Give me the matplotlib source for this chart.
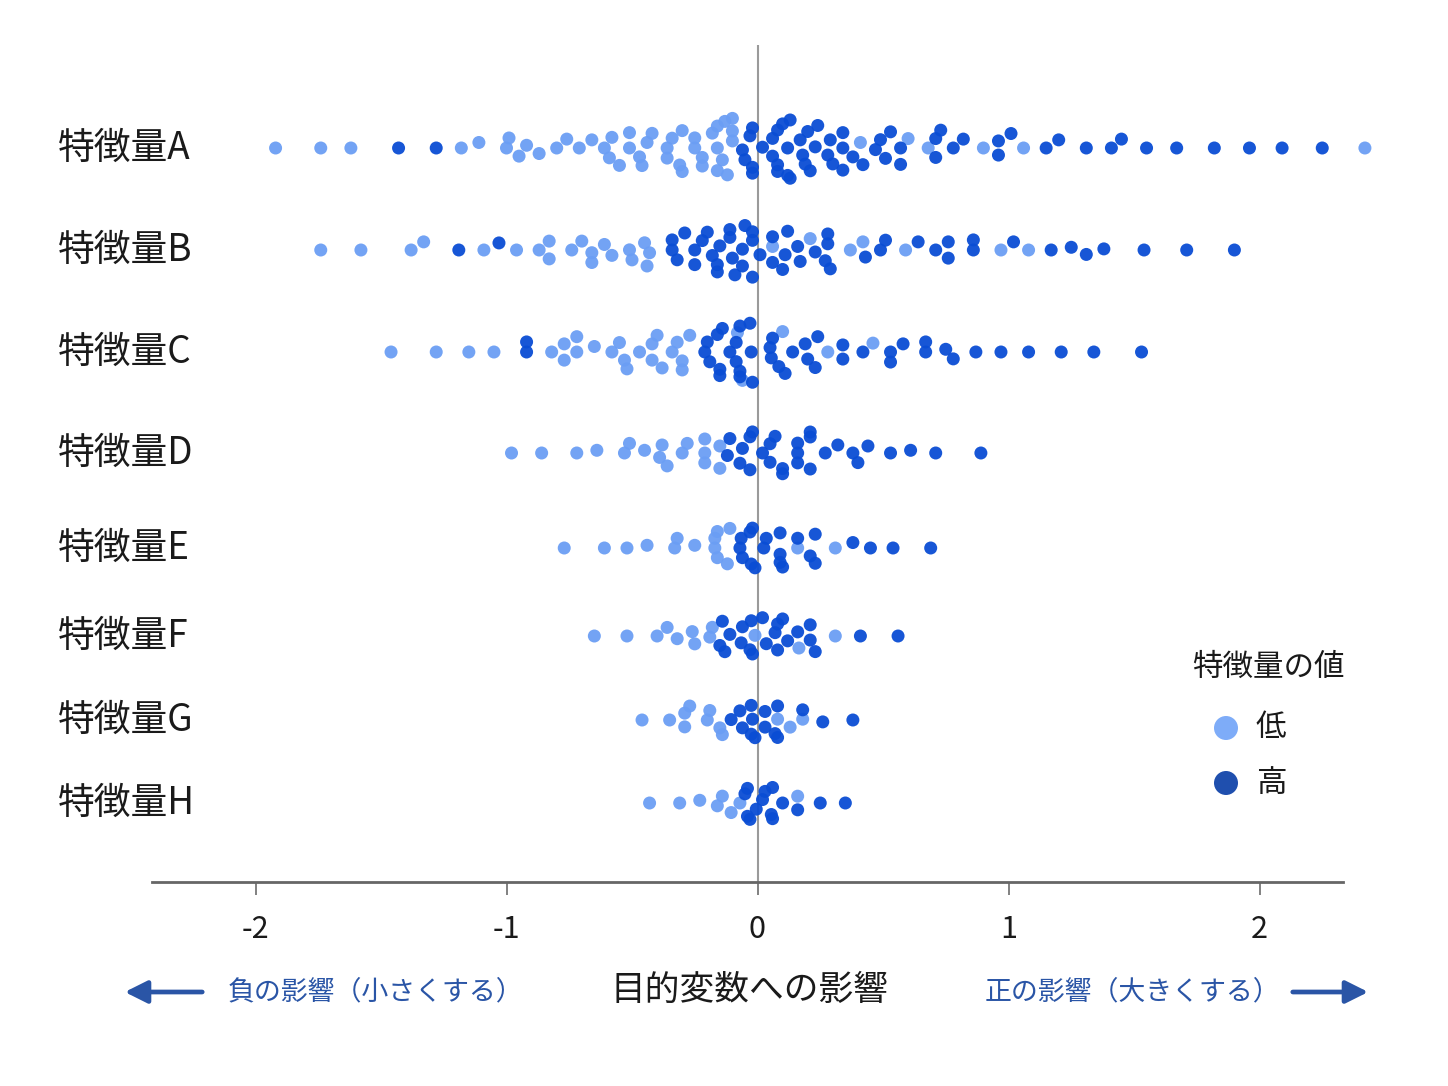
import numpy as np
import matplotlib
matplotlib.use("Agg")
import matplotlib.pyplot as plt
import matplotlib.transforms as mtransforms
from matplotlib.patches import FancyArrowPatch

plt.rcParams['font.family'] = ['Noto Sans CJK JP', 'DejaVu Sans']

# ---------------- data ----------------
features = ["特徴量A", "特徴量B", "特徴量C", "特徴量D", "特徴量E", "特徴量F", "特徴量G", "特徴量H"]

feat_A_low = [-1.92, -1.74, -1.62, -1.18, -1.11, -0.99, -0.95, -1.00, -0.92, -0.87, -0.80, -0.76,
              -0.71, -0.66, -0.61, -0.59, -0.55, -0.58, -0.51, -0.51, -0.46, -0.47, -0.44, -0.42,
              -0.36, -0.36, -0.34, -0.31, -0.30, -0.30, -0.25, -0.25, -0.22, -0.22, -0.18, -0.16,
              -0.16, -0.16, -0.14, -0.13, -0.12, -0.10, -0.10, -0.10,
              0.41, 0.60, 0.68, 0.90, 1.06, 2.42]
feat_A_high = [-1.43, -1.28, -0.02, -0.05, -0.02, -0.06, -0.02, -0.03,
               0.02, 0.06, 0.10, 0.08, 0.12, 0.08, 0.12, 0.06, 0.13, 0.08, 0.13, 0.18, 0.17, 0.21,
               0.19, 0.20, 0.24, 0.23, 0.28, 0.29, 0.30, 0.34, 0.34, 0.34, 0.38, 0.42, 0.47,
               0.49, 0.51, 0.53, 0.57, 0.57, 0.71, 0.71, 0.73, 0.78, 0.82, 0.96, 0.96, 1.01, 1.15,
               1.20, 1.31, 1.41, 1.45, 1.55, 1.67, 1.82, 1.96, 2.09, 2.25]

feat_B_low = [-1.74, -1.58, -1.38, -1.33, -1.09, -0.96, -0.87, -0.83, -0.83, -0.74, -0.70, -0.66,
              -0.66, -0.61, -0.58, -0.51, -0.50, -0.45, -0.44, -0.43, 0.06, 0.21, 0.37, 0.42,
              0.59, 0.97, 1.08]
feat_B_high = [-1.19, -1.03, -0.34, -0.34, -0.32, -0.29, -0.25, -0.25, -0.22, -0.20, -0.18, -0.16,
               -0.15, -0.16, -0.11, -0.10, -0.09, -0.11, -0.05, -0.02, -0.02, -0.02, -0.06, -0.06,
               0.01, 0.06, 0.06, 0.10, 0.11, 0.12, 0.16, 0.17, 0.23, 0.27, 0.28, 0.29, 0.28, 0.43,
               0.49, 0.51, 0.64, 0.71, 0.76, 0.76, 0.86, 0.86, 1.02, 1.17, 1.25, 1.31, 1.38, 1.54,
               1.71, 1.90]

feat_C_low = [-1.46, -1.28, -1.15, -1.05, -0.82, -0.77, -0.77, -0.72, -0.72, -0.65, -0.55, -0.58,
              -0.52, -0.53, -0.47, -0.42, -0.40, -0.42, -0.38, -0.34, -0.32, -0.30, -0.27, -0.30,
              -0.08, -0.06, 0.10, 0.28, 0.46]
feat_C_high = [-0.92, -0.92, -0.16, -0.19, -0.14, -0.20, -0.21, -0.15, -0.15, -0.11, -0.07, -0.07,
               -0.085, -0.085, -0.02, -0.025, -0.03, -0.07, 0.085, 0.06, 0.11, 0.055, 0.05, 0.14,
               0.20, 0.24, 0.19, 0.23, 0.34, 0.34, 0.42, 0.53, 0.53, 0.58, 0.67, 0.67, 0.75, 0.78,
               0.87, 0.97, 1.08, 1.21, 1.34, 1.53]

feat_D_low = [-0.98, -0.86, -0.72, -0.64, -0.53, -0.51, -0.45, -0.39, -0.38, -0.36, -0.30, -0.28,
              -0.21, -0.21, -0.21, -0.15, -0.15]
feat_D_high = [-0.12, -0.11, -0.07, -0.06, -0.03, -0.02, -0.03, 0.02, 0.05, 0.05, 0.07, 0.10, 0.10,
               0.16, 0.16, 0.16, 0.21, 0.21, 0.21, 0.27, 0.32, 0.38, 0.40, 0.44, 0.53, 0.61, 0.71,
               0.89]

feat_E_low = [-0.77, -0.61, -0.52, -0.44, -0.33, -0.32, -0.25, -0.16, -0.17, -0.12, -0.17, -0.11,
              -0.16, 0.16, 0.31]
feat_E_high = [-0.03, -0.06, -0.01, -0.065, -0.02, -0.07, -0.025, 0.025, 0.035, 0.09, 0.10, 0.09,
               0.09, 0.16, 0.21, 0.23, 0.23, 0.38, 0.45, 0.54, 0.69]

feat_F_low = [-0.65, -0.52, -0.40, -0.36, -0.32, -0.26, -0.25, -0.19, -0.18, -0.01, 0.165, 0.31]
feat_F_high = [-0.14, -0.11, -0.15, -0.13, -0.065, -0.06, -0.03, -0.02, -0.025, 0.02, 0.035, 0.07,
               0.08, 0.08, 0.10, 0.12, 0.16, 0.21, 0.21, 0.23, 0.41, 0.56]

feat_G_low = [-0.46, -0.35, -0.29, -0.29, -0.27, -0.20, -0.19, -0.15, -0.14, 0.08, 0.13, 0.18]
feat_G_high = [-0.105, -0.06, -0.07, -0.025, -0.02, -0.025, -0.01, 0.03, 0.03, 0.07, 0.08, 0.08,
               0.18, 0.26, 0.38]

feat_H_low = [-0.43, -0.31, -0.23, -0.16, -0.14, -0.105, -0.07, 0.16]
feat_H_high = [-0.05, -0.04, -0.04, -0.03, -0.005, 0.02, 0.03, 0.055, 0.06, 0.06, 0.10, 0.16,
               0.25, 0.35]

low_values = [feat_A_low, feat_B_low, feat_C_low, feat_D_low, feat_E_low, feat_F_low, feat_G_low, feat_H_low]
high_values = [feat_A_high, feat_B_high, feat_C_high, feat_D_high, feat_E_high, feat_F_high, feat_G_high, feat_H_high]

xtick_values = [-2, -1, 0, 1, 2]
xtick_labels = ["-2", "-1", "0", "1", "2"]

# ---------------- layout / style ----------------
W, H = 1448, 1086
DPI = 100
row_centers = [734, 632, 530, 429, 334, 246, 162, 79]   # axis units (== pixels above axis line)
row_half = [34, 34, 33, 26, 23, 21, 20, 18]
LOW_C = "#6b9ef4"
HIGH_C = "#0a4dd4"
LEG_LOW = "#7eacf8"
LEG_HIGH = "#1f4fae"
X_SCALE = 251.0   # pixels per unit
DOT = 13.0        # px diameter
BLUE_TXT = "#2a55a6"

fig = plt.figure(figsize=(W / DPI, H / DPI), dpi=DPI)
ax = fig.add_axes([152 / W, 1 - 882 / H, (1343 - 152) / W, (882 - 45) / H])
ax.set_xlim((152 - 757.5) / X_SCALE, (1343 - 757.5) / X_SCALE)
ax.set_ylim(0, 837)


def swarm(xpx, rx, ry):
    """Greedy beeswarm with an elliptical exclusion zone (rx wide, ry tall)."""
    order = np.argsort(xpx, kind="stable")
    placed = []
    ys = np.zeros(len(xpx))
    for i in order:
        x = xpx[i]
        near = [(px, py) for px, py in placed if abs(px - x) < rx]
        cands = [0.0]
        for px, py in near:
            dy = ry * np.sqrt(max(1 - ((px - x) / rx) ** 2, 0))
            cands += [py + dy, py - dy]
        cands.sort(key=lambda c: (abs(c), c))
        for c in cands:
            if all(((px - x) / rx) ** 2 + ((py - c) / ry) ** 2 >= 1 - 1e-6 for px, py in near):
                ys[i] = c
                break
        placed.append((x, ys[i]))
    return ys


label_tf = mtransforms.blended_transform_factory(fig.transFigure, ax.transData)

for k, name in enumerate(features):
    lo = np.array(low_values[k], dtype=float)
    hi = np.array(high_values[k], dtype=float)
    xs = np.concatenate([lo, hi])
    cols = np.array([LOW_C] * len(lo) + [HIGH_C] * len(hi))
    offs = swarm(xs * X_SCALE, DOT * 1.6, DOT * 0.8)
    offs = row_half[k] * np.tanh(offs / row_half[k])
    ys = row_centers[k] - offs
    ax.scatter(xs, ys, s=(DOT * 72 / DPI) ** 2, c=cols, edgecolors="none",
               alpha=0.95, zorder=3, clip_on=False)
    fig.text(58 / W, row_centers[k], name, fontsize=26.5, color="#1a1a1a", ha="left",
             va="center", transform=label_tf)

ax.axvline(0, color="#9a9a9a", lw=1.5, zorder=1)

for s in ["top", "right", "left"]:
    ax.spines[s].set_visible(False)
ax.spines["bottom"].set_color("#666666")
ax.spines["bottom"].set_linewidth(2.0)
ax.set_yticks([])
ax.set_xticks(xtick_values)
ax.set_xticklabels(xtick_labels)
ax.tick_params(axis="x", length=9, width=1.3, color="#777777", labelsize=22,
               labelcolor="#1a1a1a", pad=14)

# axis title and direction annotations
fig.text(750 / W, 1 - 990 / H, "目的変数への影響", fontsize=25, color="#1a1a1a",
         ha="center", va="center")
fig.text(228 / W, 1 - 992 / H, "負の影響（小さくする）", fontsize=19.4, color=BLUE_TXT,
         ha="left", va="center")
fig.text(985 / W, 1 - 992 / H, "正の影響（大きくする）", fontsize=19.4, color=BLUE_TXT,
         ha="left", va="center")
for x0, x1 in [(205, 122), (1290, 1371)]:
    arr = FancyArrowPatch((x0 / W, 1 - 992 / H), (x1 / W, 1 - 992 / H),
                          transform=fig.transFigure, arrowstyle="-|>", mutation_scale=34,
                          lw=3.4, color=BLUE_TXT)
    fig.patches.append(arr)

# legend
fig.text(1268 / W, 1 - 667 / H, "特徴量の値", fontsize=22, color="#1a1a1a", ha="center", va="center")
leg_ax = fig.add_axes([0, 0, 1, 1], facecolor="none")
leg_ax.set_xlim(0, W)
leg_ax.set_ylim(H, 0)
leg_ax.axis("off")
leg_ax.scatter([1226], [728], s=(24 * 72 / DPI) ** 2, color=LEG_LOW, edgecolors="none")
leg_ax.scatter([1226], [783], s=(24 * 72 / DPI) ** 2, color=LEG_HIGH, edgecolors="none")
fig.text(1271 / W, 1 - 728 / H, "低", fontsize=22, color="#1a1a1a", ha="center", va="center")
fig.text(1271 / W, 1 - 783 / H, "高", fontsize=22, color="#1a1a1a", ha="center", va="center")

fig.savefig("out.png", dpi=DPI, facecolor="white")
